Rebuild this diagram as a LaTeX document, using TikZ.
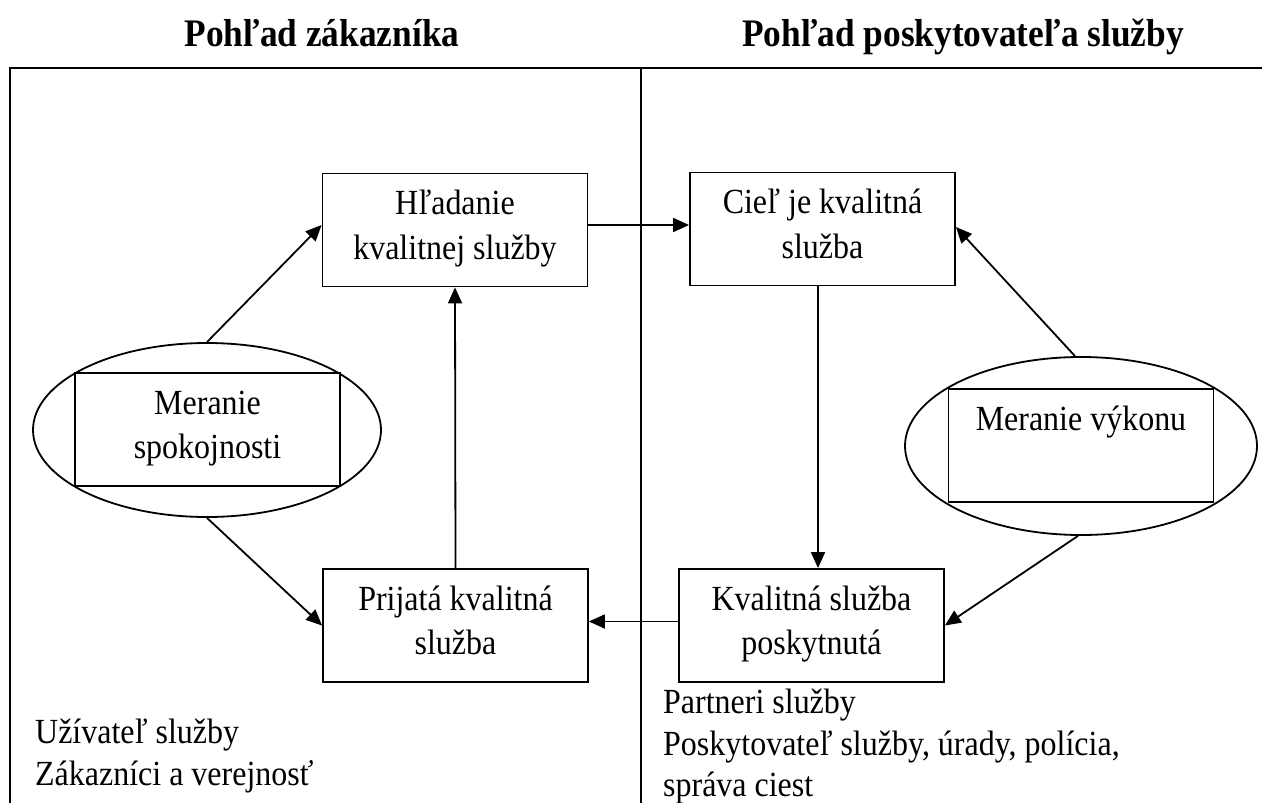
\documentclass[tikz,border=0pt]{standalone}
\usepackage{fontspec}
\setmainfont[FakeStretch=0.906]{Liberation Serif}
\usetikzlibrary{arrows.meta,shapes.geometric}
\newcommand{\twoline}[2]{\rule{0pt}{24pt}#1\\#2\rule[-10.5pt]{0pt}{10.5pt}}
\begin{document}
\begin{tikzpicture}[x=1pt,y=-1pt,
  every node/.style={inner sep=0pt},
  lw/.style={line width=1.8pt},
  boxnode/.style={draw, lw, rectangle, minimum width=265pt, minimum height=113pt, align=center, font=\fontsize{35.3}{44.5}\selectfont},
  ellnode/.style={draw, lw, ellipse},
  titletext/.style={font=\fontsize{39}{42}\selectfont\bfseries, anchor=base},
  bodytext/.style={font=\fontsize{35.3}{44.5}\selectfont, anchor=base west},
  arr/.style={lw, -{Triangle[length=16pt,width=14pt]}}
]
\useasboundingbox (0,0) rectangle (1262,803);

% titles
\node[titletext] (t1) at (322,46) {Pohľad zákazníka};
\node[titletext] (t2) at (963,46) {Pohľad poskytovateľa služby};

% frame
\coordinate (fbl) at (10,803);
\coordinate (ftl) at (10,68);
\coordinate (ftr) at (1262,68);
\coordinate (dt) at (641,68);
\coordinate (db) at (641,803);
\draw[lw] (fbl) -- (ftl) -- (ftr);
\draw[lw] (dt) -- (db);

% boxes
\node[boxnode] (h) at (455,230) {\twoline{Hľadanie}{kvalitnej služby}};
\node[boxnode] (c) at (822.5,229) {\twoline{Cieľ je kvalitná}{služba}};
\node[boxnode] (p) at (455.5,625.5) {\twoline{Prijatá kvalitná}{služba}};
\node[boxnode] (k) at (811.5,625.5) {\twoline{Kvalitná služba}{poskytnutá}};

% ellipses with inner boxes
\node[ellnode, minimum width=348pt, minimum height=174pt] (e1) at (207,430) {};
\node[boxnode] (m1) at (207.5,429.5) {\twoline{Meranie}{spokojnosti}};
\node[ellnode, minimum width=352pt, minimum height=178pt] (e2) at (1081,446) {};
\node[boxnode] (m2) at (1081,445.5) {\twoline{Meranie výkonu}{}};

% connectors
\draw[arr] (e1.north) -- ([yshift=5pt]h.west);
\draw[arr] (e1.south) -- (p.west);
\draw[arr] (p.north) -- (h.south);
\draw[arr] ([yshift=5pt]h.east) -- ([yshift=5pt]h.east -| c.west);
\draw[arr] ([xshift=-4.5pt]c.south) -- ([xshift=-4.5pt]c.south |- k.north);
\draw[arr] ([xshift=-6pt]e2.north) -- ([yshift=2pt]c.east);
\draw[arr] ([xshift=-3pt]e2.south) -- (k.east);
\draw[arr] ([yshift=4pt]k.west) -- ([yshift=4pt]k.west -| p.east);

% bottom texts
\node[bodytext] (u1) at (35,743) {Užívateľ služby};
\node[bodytext] (u2) at (35,785) {Zákazníci a verejnosť};
\node[bodytext] (r1) at (663,713) {Partneri služby};
\node[bodytext] (r2) at (663,755) {Poskytovateľ služby, úrady, polícia,};
\node[bodytext] (r3) at (663,796) {správa ciest};
\end{tikzpicture}
\end{document}
